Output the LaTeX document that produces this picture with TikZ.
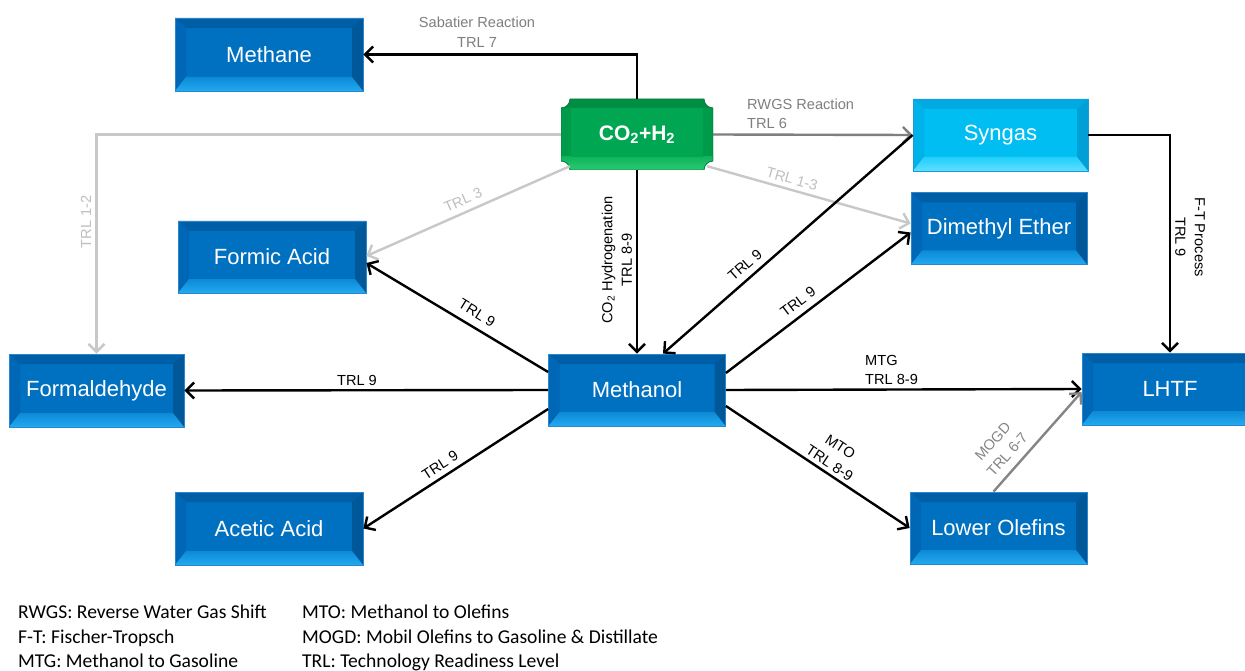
\documentclass[tikz,border=0pt]{standalone}
\usepackage{fontspec}
\setmainfont{Liberation Sans}
\newfontfamily\calib{Carlito}
\usetikzlibrary{arrows.meta,calc}

\definecolor{bface}{HTML}{0070C0}
\definecolor{btop}{HTML}{005EA6}
\definecolor{bleft}{HTML}{0067B6}
\definecolor{bright}{HTML}{005899}
\definecolor{bbotA}{HTML}{0C8AD6}
\definecolor{bbotB}{HTML}{22AAF0}
\definecolor{bedge}{HTML}{2B86D0}
\definecolor{cface}{HTML}{00BDF2}
\definecolor{ctop}{HTML}{00A9E2}
\definecolor{cleft}{HTML}{00B2EA}
\definecolor{cright}{HTML}{00A0D6}
\definecolor{cbotA}{HTML}{20CFFA}
\definecolor{cbotB}{HTML}{60DEFF}
\definecolor{cedge}{HTML}{1A9AD8}
\definecolor{gface}{HTML}{00A651}
\definecolor{gtop}{HTML}{008E44}
\definecolor{gside}{HTML}{009A4B}
\definecolor{gbotA}{HTML}{10B45C}
\definecolor{gbotB}{HTML}{2ACB72}
\definecolor{gedge}{HTML}{0B7E3E}
\definecolor{sabgray}{HTML}{7F7F7F}
\definecolor{lgline}{HTML}{C8C8C8}
\definecolor{lgtext}{HTML}{BFBFBF}
\definecolor{midgray}{HTML}{858585}

\newcommand{\bevelpic}[5]{%
 \coordinate (pA) at (path picture bounding box.north west);
 \coordinate (pB) at (path picture bounding box.north east);
 \coordinate (pC) at (path picture bounding box.south east);
 \coordinate (pD) at (path picture bounding box.south west);
 \coordinate (qA) at ([shift={(11pt,-10pt)}]pA);
 \coordinate (qB) at ([shift={(-11pt,-10pt)}]pB);
 \coordinate (qC) at ([shift={(-11pt,14pt)}]pC);
 \coordinate (qD) at ([shift={(11pt,14pt)}]pD);
 \fill[#1] (pA)--(pB)--(qB)--(qA)--cycle;
 \fill[#2] (pA)--(qA)--(qD)--(pD)--cycle;
 \fill[#3] (pB)--(qB)--(qC)--(pC)--cycle;
 \shade[top color=#4,bottom color=#5] (pD)--(qD)--(qC)--(pC)--cycle;
}
\newcommand{\plaquepath}{([xshift=9pt]pA) -- ([xshift=-9pt]pB) arc[start angle=180,end angle=270,radius=9pt] -- ([yshift=9pt]pC) arc[start angle=90,end angle=180,radius=9pt] -- ([xshift=9pt]pD) arc[start angle=0,end angle=90,radius=9pt] -- ([yshift=-9pt]pA) arc[start angle=270,end angle=360,radius=9pt] -- cycle}
\newcommand{\plaquepic}{%
 \coordinate (pA) at (path picture bounding box.north west);
 \coordinate (pB) at (path picture bounding box.north east);
 \coordinate (pC) at (path picture bounding box.south east);
 \coordinate (pD) at (path picture bounding box.south west);
 \fill[gside] \plaquepath;
 \begin{scope}
  \clip \plaquepath;
  \fill[gtop] (pA) rectangle ([yshift=-9pt]pB);
  \shade[top color=gbotA,bottom color=gbotB] ([yshift=13pt]pD) rectangle (pC);
 \end{scope}
 \fill[gface] ([shift={(10pt,-9pt)}]pA) rectangle ([shift={(-10pt,13pt)}]pC);
 \draw[gedge,line width=0.8pt] \plaquepath;
}

\begin{document}
\begin{tikzpicture}[x=1pt,y=-1pt,
 bbox/.style={rectangle, inner sep=0pt, minimum width=177pt, minimum height=72pt,
   fill=bface, draw=bedge, line width=0.8pt, text=white,
   font=\fontsize{22}{26}\selectfont,
   path picture={\bevelpic{btop}{bleft}{bright}{bbotA}{bbotB}}},
 cbox/.style={bbox, fill=cface, draw=cedge,
   path picture={\bevelpic{ctop}{cleft}{cright}{cbotA}{cbotB}}},
 gbox/.style={rectangle, inner sep=0pt, minimum width=152pt, minimum height=71pt,
   fill=white, text=white, font=\bfseries\fontsize{21}{24}\selectfont,
   path picture={\plaquepic}},
 arr/.style={line width=2.4pt, black, -{Straight Barb[length=8pt,width=16pt]}},
 garr/.style={arr, draw=sabgray},
 marr/.style={arr, draw=midgray},
 lgarr/.style={arr, draw=lgline},
 lab/.style={font=\fontsize{14.6}{19.5}\selectfont, inner sep=0pt, align=center},
 leg/.style={font=\calib\fontsize{19.6}{22}\selectfont, inner sep=0pt, anchor=base west}
]
\useasboundingbox (0,0) rectangle (1245,671);
\fill[white] (0,0) rectangle (1245,671);

% nodes
\node[bbox, minimum width=188pt, minimum height=73pt] (methane) at (269,54.5) {Methane};
\node[gbox] (co2) at (637,134.5) {CO\textsubscript{2}+H\textsubscript{2}};
\node[cbox, minimum width=175pt] (syngas) at (1000.5,135) {Syngas};
\node[bbox, minimum width=176pt] (dme) at (999,228.5) {Dimethyl Ether};
\node[bbox, minimum width=188pt] (formic) at (272,257) {Formic Acid};
\node[bbox, minimum width=175pt, minimum height=73pt] (formaldehyde) at (96.5,390.5) {Formaldehyde};
\node[bbox] (methanol) at (637,390) {Methanol};
\node[bbox, minimum width=176pt] (lhtf) at (1170,389) {LHTF};
\node[bbox, minimum width=188pt, minimum height=73pt] (acetic) at (269,528.5) {Acetic Acid};
\node[bbox] (lo) at (998.5,528) {Lower Olefins};

% connectors
\draw[arr] (co2.north) |- (methane.east);
\draw[garr] (co2.east) -- (syngas.west);
\draw[lgarr] (co2.west) -| (formaldehyde.north);
\draw[lgarr] ($(co2.south west)+(9pt,4pt)$) -- ([yshift=1pt]formic.east);
\draw[lgarr] ($(co2.south east)+(-6pt,4pt)$) -- ([yshift=5pt]dme.west);
\draw[arr] (co2.south) -- (methanol.north);
\draw[arr] (syngas.west) -- ([xshift=26pt]methanol.north);
\draw[arr] ([yshift=17pt]methanol.east) -- ([yshift=-4pt]dme.west);
\draw[arr] (methanol.east) -- (lhtf.west);
\draw[arr] ([yshift=-16pt]methanol.east) -- (lo.west);
\draw[marr] ([xshift=-5pt]lo.north) -- ([yshift=-3pt]lhtf.west);
\draw[arr] (syngas.east) -| (lhtf.north);
\draw[arr] (methanol.west) -- (formaldehyde.east);
\draw[arr] ([yshift=18pt]methanol.west) -- ([yshift=-6pt]formic.east);
\draw[arr] ([yshift=-19pt]methanol.west) -- (acetic.east);

% labels
\node[lab, text=sabgray] (labsab) at (477,32) {Sabatier Reaction\\TRL 7};
\node[lab, text=sabgray, align=left, anchor=west] (labrwgs) at (747,114) {RWGS Reaction\\TRL 6};
\node[lab, text=lgtext, rotate=90] (lab12) at (86,222) {TRL 1-2};
\node[lab, text=lgtext, rotate=23.7] (lab3) at (463,200) {TRL 3};
\node[lab, text=lgtext, rotate=-16] (lab13) at (792,179) {TRL 1-3};
\node[lab, rotate=90] (labhyd) at (617,260) {CO\textsubscript{2} Hydrogenation\\TRL 8-9};
\node[lab, rotate=-90] (labft) at (1190,237) {F-T Process\\TRL 9};
\node[lab, rotate=41] (labsm) at (745,265) {TRL 9};
\node[lab, rotate=37] (labdme) at (798,302) {TRL 9};
\node[lab, rotate=-31.5] (labfa) at (477,313) {TRL 9};
\node[lab] (labfm) at (357,380) {TRL 9};
\node[lab, rotate=33] (labaa) at (440,465) {TRL 9};
\node[lab, align=left, anchor=west] (labmtg) at (865,370) {MTG\\TRL 8-9};
\node[lab, rotate=-33.3] (labmto) at (835,455) {MTO\\TRL 8-9};
\node[lab, text=midgray, rotate=48] (labmogd) at (1000,448) {MOGD\\TRL 6-7};

% legend
\node[leg] (lg1) at (18,618) {RWGS: Reverse Water Gas Shift};
\node[leg] (lg2) at (18,643) {F-T: Fischer-Tropsch};
\node[leg] (lg3) at (18,667) {MTG: Methanol to Gasoline};
\node[leg] (lg4) at (302,618) {MTO: Methanol to Olefins};
\node[leg] (lg5) at (302,643) {MOGD: Mobil Olefins to Gasoline \& Distillate};
\node[leg] (lg6) at (302,667) {TRL: Technology Readiness Level};
\end{tikzpicture}
\end{document}
